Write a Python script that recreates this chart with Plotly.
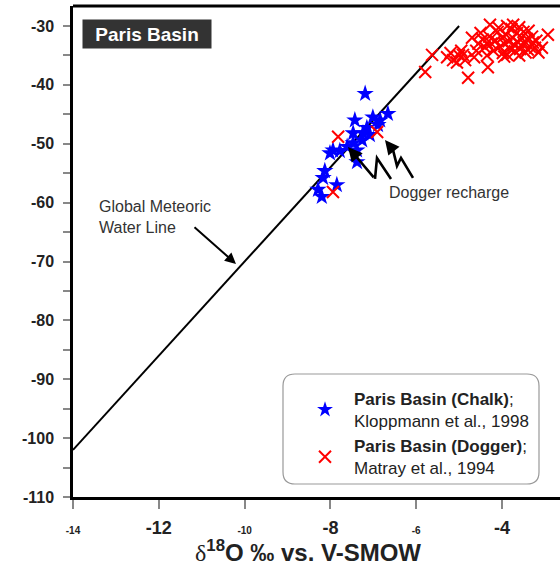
import plotly.graph_objects as go

# ---------------- data ----------------
chalk_d18O = [-7.19, -7.43, -7.01, -6.84, -6.66, -7.15, -7.47, -7.24, -7.08, -7.26, -7.47,
              -7.94, -7.78, -8.01, -7.38, -7.38, -8.13, -8.17, -7.85, -8.29, -8.20, -7.61, -6.89]
chalk_dD = [-41.5, -46.0, -45.5, -46.0, -44.9, -47.3, -48.2, -48.2, -48.5, -49.4, -49.9,
            -51.1, -51.2, -51.6, -51.1, -53.1, -54.6, -55.8, -57.0, -57.8, -59.0, -50.5, -46.8]

dogger_d18O = [-7.82, -6.91, -7.94,
               -5.79, -5.63, -5.28, -5.14, -4.91, -4.86, -4.70, -4.79, -4.28, -4.33, -4.35,
               -3.74, -2.93, -3.23, -3.07, -3.88,
               -4.55, -4.45, -4.40, -4.30, -4.25, -4.20, -4.15, -4.10, -4.05, -4.00, -3.98,
               -3.95, -3.90, -3.85, -3.82, -3.78, -3.75, -3.72, -3.70, -3.65, -3.62, -3.60,
               -3.58, -3.55, -3.50, -3.48, -3.45, -3.42, -3.38, -3.35, -3.30, -3.28, -4.35,
               -4.60, -4.50, -4.65, -3.95, -3.60, -3.40, -4.08, -3.88, -3.20, -3.15,
               -5.20, -5.05, -5.00, -4.95]
dogger_dD = [-48.8, -48.0, -58.2,
             -37.8, -34.9, -35.3, -35.8, -34.9, -35.8, -32.0, -38.8, -29.8, -37.0, -32.9,
             -29.8, -31.5, -33.7, -33.7, -34.9,
             -33.0, -32.3, -33.6, -31.8, -33.0, -34.2, -32.5, -31.0, -33.5, -32.0, -34.6,
             -33.0, -31.5, -32.6, -33.8, -30.5, -32.0, -33.2, -34.3, -31.2, -32.8, -30.2,
             -33.9, -32.0, -31.0, -33.0, -34.5, -32.2, -30.8, -33.5, -31.8, -32.8, -35.0,
             -34.2, -31.2, -35.3, -35.2, -35.0, -34.0, -30.3, -30.0, -32.5, -34.5,
             -34.6, -36.2, -35.0, -34.2]

gmwl_d18O = [-14.0, -5.0]
gmwl_dD = [8 * v + 10 for v in gmwl_d18O]

x_ticks = [-14, -12, -10, -8, -6, -4]
y_ticks = [-110, -100, -90, -80, -70, -60, -50, -40, -30]

# ---------------- layout geometry ----------------
W, H = 560, 572
PL, PR, PT, PB = 73, 560, 6, 497
PX_PER_X = 42.9
PX_PER_Y = 5.89
X0 = -14.0
XR = [X0, X0 + (PR - PL) / PX_PER_X]
YR = [-110.0, -30.0 + (26 - PT) / PX_PER_Y]


def px2d(px, py):
    return X0 + (px - PL) / PX_PER_X, -30.0 - (py - 26) / PX_PER_Y


def pxx(px):
    return (px - PL) / (PR - PL)


def pxy(py):
    return (PB - py) / (PB - PT)


FONT = "Arial, Liberation Sans, sans-serif"

fig = go.Figure()

fig.add_trace(go.Scatter(x=gmwl_d18O, y=gmwl_dD, mode="lines",
                         line=dict(color="black", width=2), showlegend=False,
                         hoverinfo="skip"))

fig.add_trace(go.Scatter(
    x=chalk_d18O, y=chalk_dD, mode="markers",
    marker=dict(symbol="star", size=13, color="#0000ff", line=dict(width=0)),
    name="<b>Paris Basin (Chalk)</b>;<br>Kloppmann et al., 1998"))

fig.add_trace(go.Scatter(
    x=dogger_d18O, y=dogger_dD, mode="markers",
    marker=dict(symbol="x-thin-open", size=12, color="#ff0000",
                line=dict(width=2, color="#ff0000")),
    name="<b>Paris Basin (Dogger)</b>;<br>Matray et al., 1994"))

# x tick labels alternate small / large
x_ticktext = []
for i, v in enumerate(x_ticks):
    if i % 2 == 0:
        x_ticktext.append(f"<span style='font-size:10px'>{v}</span>")
    else:
        x_ticktext.append(f"{v}")
y_ticktext = [f"{v}" for v in y_ticks]

fig.update_xaxes(range=XR, tickvals=x_ticks, ticktext=x_ticktext,
                 showline=True, linecolor="black", linewidth=2.5,
                 ticks="outside", ticklen=9, tickwidth=1.5, tickcolor="#888",
                 ticklabelstandoff=4,
                 tickfont=dict(family=FONT, size=18, color="#222", weight="bold"),
                 showgrid=False, zeroline=False)
fig.update_yaxes(range=YR, tickvals=y_ticks, ticktext=y_ticktext,
                 showline=True, linecolor="black", linewidth=2.5,
                 ticks="outside", ticklen=7, tickwidth=1.5, tickcolor="#888",
                 ticklabelstandoff=6,
                 minor=dict(dtick=5, tick0=-110, ticks="outside", ticklen=7,
                            tickwidth=1.5, tickcolor="#888"),
                 tickfont=dict(family=FONT, size=16, color="#222", weight="bold"),
                 showgrid=False, zeroline=False)

shapes = []
# top border
shapes.append(dict(type="line", xref="paper", yref="paper", x0=0, x1=1, y0=1, y1=1,
                   line=dict(color="black", width=3)))

# rounded legend box
bx0, by0, bx1, by1, r = 283, 374, 539, 484, 12


def P(px, py):
    return f"{pxx(px):.5f},{pxy(py):.5f}"


path = (f"M {P(bx0 + r, by0)} L {P(bx1 - r, by0)} Q {P(bx1, by0)} {P(bx1, by0 + r)} "
        f"L {P(bx1, by1 - r)} Q {P(bx1, by1)} {P(bx1 - r, by1)} "
        f"L {P(bx0 + r, by1)} Q {P(bx0, by1)} {P(bx0, by1 - r)} "
        f"L {P(bx0, by0 + r)} Q {P(bx0, by0)} {P(bx0 + r, by0)} Z")
shapes.append(dict(type="path", xref="paper", yref="paper", path=path,
                   line=dict(color="#999", width=1.2), fillcolor="white", layer="below"))

# zigzag "Dogger recharge" arrows (pixel points tail -> head)
zig1 = [(391, 179), (377, 158), (375, 179), (348, 147)]
zig2 = [(413, 178), (401, 158), (397, 166), (393, 150), (385, 140)]
annotations = []
for zz in (zig1, zig2):
    pts = [px2d(a, b) for a, b in zz]
    p = "M " + " L ".join(f"{x:.4f},{y:.4f}" for x, y in pts[:-1])
    shapes.append(dict(type="path", xref="x", yref="y", path=p,
                       line=dict(color="black", width=2.6)))
    hx, hy = pts[-1]
    ax = zz[-2][0] - zz[-1][0]
    ay = zz[-2][1] - zz[-1][1]
    annotations.append(dict(x=hx, y=hy, xref="x", yref="y", ax=ax, ay=ay, text="",
                            showarrow=True, arrowhead=2, arrowsize=1.1,
                            arrowwidth=2.6, arrowcolor="black"))

# GMWL arrow
hx, hy = px2d(236, 264)
annotations.append(dict(x=hx, y=hy, xref="x", yref="y", ax=-43, ay=-38, text="",
                        showarrow=True, arrowhead=2, arrowsize=1.1, arrowwidth=2,
                        arrowcolor="black"))

annotations.append(dict(x=pxx(97), y=pxy(217), xref="paper", yref="paper",
                        xanchor="left", yanchor="middle", align="left", showarrow=False,
                        text="Global Meteoric<br>Water Line",
                        font=dict(family=FONT, size=16, color="#333")))
annotations.append(dict(x=pxx(387), y=pxy(192), xref="paper", yref="paper",
                        xanchor="left", yanchor="middle", showarrow=False,
                        text="Dogger recharge",
                        font=dict(family=FONT, size=16, color="#333")))
annotations.append(dict(x=pxx(147), y=pxy(34), xref="paper", yref="paper",
                        xanchor="center", yanchor="middle", showarrow=False,
                        text="<b>Paris Basin</b>", bgcolor="#333333",
                        width=124, height=24, borderpad=2,
                        font=dict(family=FONT, size=19, color="white")))
annotations.append(dict(x=pxx(308), y=(PB - 551) / (PB - PT), xref="paper", yref="paper",
                        xanchor="center", yanchor="middle", showarrow=False,
                        text="<span style='font-family:Liberation Serif;font-weight:normal'>δ</span>"
                             "<b><sup>18</sup>O ‰ vs. V-SMOW</b>",
                        font=dict(family=FONT, size=24, color="#222")))

fig.update_layout(
    width=W, height=H,
    margin=dict(l=PL, r=W - PR, t=PT, b=H - PB, pad=0),
    paper_bgcolor="white", plot_bgcolor="white",
    shapes=shapes, annotations=annotations,
    legend=dict(x=pxx(296), y=pxy(381), xanchor="left", yanchor="top",
                bgcolor="rgba(0,0,0,0)", borderwidth=0, itemsizing="constant",
                itemwidth=48, valign="middle", tracegroupgap=4,
                font=dict(family=FONT, size=17, color="#222")),
)

fig.write_html("out.html")
